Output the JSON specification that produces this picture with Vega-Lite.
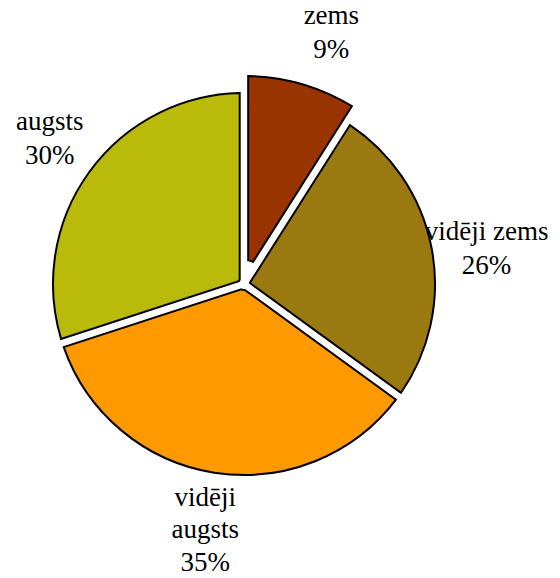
{
  "$schema": "https://vega.github.io/schema/vega-lite/v6.json",
  "width": 488,
  "height": 568,
  "autosize": "none",
  "padding": {"left": 0, "top": 0, "right": 72, "bottom": 10},
  "background": "white",
  "config": {"view": {"stroke": null}},
  "data": {
    "values": [
      {"category": "zems", "value": 9, "order": 1, "label": "zems\n9%"},
      {"category": "vidēji zems", "value": 26, "order": 2, "label": "vidēji zems\n26%"},
      {"category": "vidēji augsts", "value": 35, "order": 3, "label": "vidēji\naugsts\n35%"},
      {"category": "augsts", "value": 30, "order": 4, "label": "augsts\n30%"}
    ]
  },
  "transform": [
    {"stack": "value", "groupby": [], "sort": [{"field": "order"}], "as": ["v0", "v1"]}
  ],
  "layer": [
    {
      "transform": [{"filter": "datum.category !== 'zems'"}],
      "mark": {"type": "arc", "outerRadius": 191, "innerRadius": 6, "padAngle": 0.045, "stroke": "black", "strokeWidth": 2, "strokeJoin": "miter"},
      "encoding": {
        "theta": {"field": "v0", "type": "quantitative", "scale": {"domain": [0, 100]}},
        "theta2": {"field": "v1"},
        "color": {
          "field": "category",
          "type": "nominal",
          "scale": {
            "domain": ["zems", "vidēji zems", "vidēji augsts", "augsts"],
            "range": ["#993300", "#9A7A10", "#FF9900", "#BABA0A"]
          },
          "legend": null
        }
      }
    },
    {
      "transform": [{"filter": "datum.category === 'zems'"}],
      "mark": {"type": "arc", "outerRadius": 208, "innerRadius": 24, "padAngle": 0.04, "stroke": "black", "strokeWidth": 2, "strokeJoin": "miter"},
      "encoding": {
        "theta": {"field": "v0", "type": "quantitative", "scale": {"domain": [0, 100]}},
        "theta2": {"field": "v1"},
        "color": {"field": "category", "type": "nominal", "legend": null}
      }
    },
    {
      "mark": {"type": "text", "radius": 263, "dx": 14, "dy": -15, "align": "center", "baseline": "middle", "font": "Liberation Serif", "fontSize": 27, "lineBreak": "\n", "lineHeight": 34, "color": "black"},
      "encoding": {
        "theta": {"field": "value", "type": "quantitative", "stack": true, "scale": {"domain": [0, 100]}},
        "order": {"field": "order", "type": "quantitative"},
        "text": {"condition": {"test": "datum.category === 'zems'", "field": "label"}, "value": ""}
      }
    },
    {
      "mark": {"type": "text", "radius": 247, "dy": -6, "align": "center", "baseline": "middle", "font": "Liberation Serif", "fontSize": 27, "lineBreak": "\n", "lineHeight": 34, "color": "black"},
      "encoding": {
        "theta": {"field": "value", "type": "quantitative", "stack": true, "scale": {"domain": [0, 100]}},
        "order": {"field": "order", "type": "quantitative"},
        "text": {"condition": {"test": "datum.category === 'vidēji zems'", "field": "label"}, "value": ""}
      }
    },
    {
      "mark": {"type": "text", "radius": 240, "dy": -21, "align": "center", "baseline": "middle", "font": "Liberation Serif", "fontSize": 27, "lineBreak": "\n", "lineHeight": 34, "color": "black"},
      "encoding": {
        "theta": {"field": "value", "type": "quantitative", "stack": true, "scale": {"domain": [0, 100]}},
        "order": {"field": "order", "type": "quantitative"},
        "text": {"condition": {"test": "datum.category === 'augsts'", "field": "label"}, "value": ""}
      }
    },
    {
      "mark": {"type": "text", "radius": 248, "dy": -31, "align": "center", "baseline": "middle", "font": "Liberation Serif", "fontSize": 27, "lineBreak": "\n", "lineHeight": 32.5, "color": "black"},
      "encoding": {
        "theta": {"field": "value", "type": "quantitative", "stack": true, "scale": {"domain": [0, 100]}},
        "order": {"field": "order", "type": "quantitative"},
        "text": {"condition": {"test": "datum.category === 'vidēji augsts'", "field": "label"}, "value": ""}
      }
    }
  ]
}
